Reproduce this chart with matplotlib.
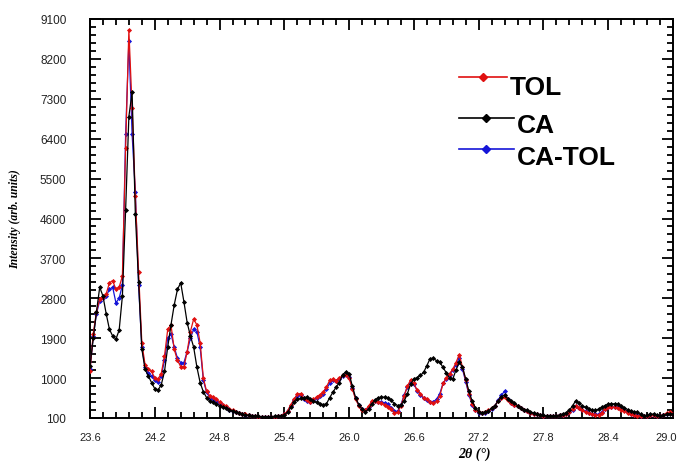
import numpy as np
import matplotlib
matplotlib.use("Agg")
import matplotlib.pyplot as plt
import matplotlib.transforms as mtransforms
from matplotlib.ticker import FormatStrFormatter


# ─────────────────────────────────────────────────────────────────────────────
#  XRD scans, 2θ = 23.60 … 29.00 in 0.03° steps
# ─────────────────────────────────────────────────────────────────────────────

two_theta = np.round(np.linspace(23.60, 29.00, 181), 2)

ca = [
    1280, 1900, 2500, 3050, 2850, 2450, 2100, 1950, 1880, 2080,
    2850, 4800, 6900, 7450, 4700, 3170, 1660, 1200, 1050, 900,
    760, 730, 850, 1150, 1700, 2200, 2650, 3000, 3150, 2720,
    2250, 1950, 1700, 1250, 900, 690, 560, 480, 450, 420,
    380, 350, 320, 290, 260, 230, 210, 190, 170, 160,
    150, 140, 140, 130, 130, 130, 130, 140, 140, 150,
    170, 230, 340, 450, 520, 540, 560, 570, 520, 480,
    450, 420, 400, 420, 560, 680, 800, 900, 1080, 1140,
    1100, 820, 560, 400, 300, 240, 300, 420, 500, 560,
    570, 570, 560, 500, 420, 380, 400, 480, 650, 870,
    980, 1010, 1060, 1130, 1280, 1440, 1450, 1390, 1360, 1240,
    1120, 1000, 980, 1180, 1360, 1250, 980, 700, 480, 330,
    240, 220, 230, 265, 320, 380, 480, 580, 620, 530,
    480, 440, 380, 320, 290, 270, 240, 210, 190, 170,
    160, 150, 150, 150, 150, 170, 190, 220, 270, 380,
    490, 430, 370, 340, 300, 270, 270, 300, 340, 380,
    410, 420, 420, 410, 360, 330, 290, 260, 240, 230,
    180, 150, 160, 180, 190, 170, 150, 160, 190, 190,
    190,
]

tol = [
    1170, 2000, 2500, 2780, 2820, 2900, 3150, 3200, 3000, 3050,
    3300, 6200, 8850, 7100, 5100, 3400, 1800, 1300, 1200, 1150,
    1000, 980, 1100, 1500, 2100, 2200, 1650, 1400, 1260, 1250,
    1600, 2050, 2330, 2200, 1800, 1000, 700, 600, 580, 520,
    470, 400, 360, 300, 270, 240, 220, 200, 180, 160,
    150, 140, 130, 130, 120, 120, 130, 130, 140, 150,
    180, 260, 400, 520, 640, 650, 540, 500, 470, 520,
    580, 620, 680, 800, 950, 980, 940, 1000, 1060, 1080,
    1000, 760, 520, 380, 290, 280, 360, 480, 490, 450,
    430, 400, 350, 300, 220, 230, 380, 600, 820, 960,
    880, 730, 650, 560, 520, 460, 440, 480, 600, 880,
    1000, 1100, 1200, 1350, 1530, 1250, 950, 650, 420, 280,
    230, 220, 230, 270, 320, 380, 480, 550, 580, 500,
    430, 400, 360, 330, 280, 250, 220, 200, 180, 160,
    150, 140, 140, 140, 150, 160, 170, 190, 230, 300,
    380, 330, 270, 240, 210, 190, 170, 160, 220, 300,
    340, 340, 340, 330, 290, 260, 220, 190, 160, 150,
    150, 140, 150, 160, 170, 150, 150, 170, 210, 230,
    200,
]

ca_tol = [
    1200, 1950, 2450, 2750, 2800, 2850, 3000, 3050, 2700, 2800,
    3100, 6500, 8600, 6500, 5200, 3100, 1700, 1250, 1120, 1050,
    950, 920, 1050, 1400, 1900, 2000, 1700, 1450, 1350, 1350,
    1600, 1900, 2100, 2050, 1700, 950, 680, 560, 530, 480,
    430, 380, 340, 290, 260, 230, 210, 190, 170, 160,
    150, 140, 130, 130, 120, 120, 130, 130, 140, 150,
    180, 250, 380, 500, 600, 620, 530, 480, 460, 500,
    560, 600, 650, 760, 880, 950, 930, 980, 1050, 1090,
    1020, 780, 540, 390, 300, 270, 340, 450, 480, 470,
    460, 440, 420, 330, 250, 250, 400, 620, 800, 920,
    860, 720, 620, 540, 500, 460, 470, 520, 650, 880,
    980, 1080, 1180, 1300, 1450, 1200, 920, 620, 400, 270,
    220, 210, 220, 260, 310, 370, 500, 620, 700, 520,
    440, 400, 360, 320, 280, 250, 220, 200, 180, 160,
    150, 140, 140, 140, 150, 160, 170, 190, 230, 290,
    370, 330, 280, 250, 220, 200, 180, 180, 230, 300,
    350, 350, 350, 340, 300, 270, 230, 200, 170, 160,
    150, 140, 150, 160, 170, 150, 150, 170, 200, 220,
    200,
]

x_major = [23.6, 24.2, 24.8, 25.4, 26.0, 26.6, 27.2, 27.8, 28.4, 29.0]
y_major = [100, 1000, 1900, 2800, 3700, 4600, 5500, 6400, 7300, 8200, 9100]

series = [
    # label, values, colour, zorder
    ("CA-TOL", ca_tol, "#1515d8", 3),
    ("TOL",    tol,    "#e01010", 4),
    ("CA",     ca,     "#000000", 5),
]
legend_order = ["TOL", "CA", "CA-TOL"]


# ─────────────────────────────────────────────────────────────────────────────
#  Figure
# ─────────────────────────────────────────────────────────────────────────────

fig = plt.figure(figsize=(6.81, 4.64), dpi=100)
ax = fig.add_axes([90 / 681, 45 / 464, 583 / 681, 399 / 464])

for label, vals, colour, z in series:
    ax.plot(two_theta, vals, color=colour, lw=0.9, marker="D",
            ms=2.6, mew=0, zorder=z, label=label)

ax.set_xlim(23.6, 29.0)
ax.set_ylim(100, 9100)

# 4 minor ticks between each pair of labelled ticks
ax.set_xticks(x_major)
ax.set_xticks(np.linspace(x_major[0], x_major[-1], 46), minor=True)
ax.xaxis.set_major_formatter(FormatStrFormatter("%.1f"))
ax.set_yticks(y_major)
ax.set_yticks(np.linspace(y_major[0], y_major[-1], 51), minor=True)

ax.tick_params(which="both", direction="in", top=True, right=True,
               width=1.3, labelcolor="#222222")
ax.tick_params(which="major", length=8)
ax.tick_params(which="minor", length=4.5)
ax.tick_params(axis="y", pad=17, labelsize=8.5)
ax.tick_params(axis="x", pad=10, labelsize=8)
for lbl in ax.get_xticklabels() + ax.get_yticklabels():
    lbl.set_family("Liberation Sans")

# keep the last x label inside the canvas
fig.canvas.draw()
last = ax.get_xticklabels()[-1]
last.set_transform(last.get_transform() + mtransforms.ScaledTranslation(
    -5 / 72, 0, fig.dpi_scale_trans))

for sp in ax.spines.values():
    sp.set_linewidth(1.4)

ax.set_ylabel("Intensity (arb. units)", family="Liberation Serif",
              style="italic", weight="bold", fontsize=8.5)
ax.yaxis.set_label_coords(-0.118, 0.5)
ax.set_xlabel("2θ (°)", family="Liberation Serif", style="italic",
              weight="bold", fontsize=10)
ax.xaxis.set_label_coords(0.659, -0.072)

# hand-placed legend, rows sit at slightly uneven heights
colours = {lab: c for lab, _, c, _ in series}
rows = {
    "TOL":    (0.855, 0.720, 0.812),
    "CA":     (0.752, 0.732, 0.716),
    "CA-TOL": (0.674, 0.732, 0.637),
}
for lab in legend_order:
    y_handle, x_text, y_text = rows[lab]
    x_end = x_text - 0.005
    ax.plot([0.633, x_end], [y_handle, y_handle], color=colours[lab],
            lw=1.2, transform=ax.transAxes, clip_on=False)
    ax.plot([(0.633 + x_end) / 2], [y_handle], marker="D", ms=4.5,
            color=colours[lab], transform=ax.transAxes, clip_on=False)
    ax.text(x_text, y_text, lab, transform=ax.transAxes, ha="left",
            va="baseline", fontsize=19, weight="bold",
            family="Liberation Sans")

fig.savefig("out.png", dpi=100)
